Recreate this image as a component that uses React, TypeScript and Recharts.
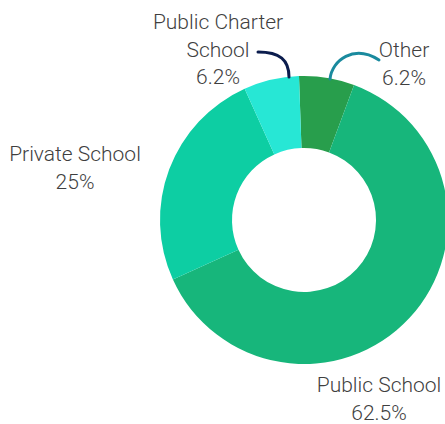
import React from 'react';
import { PieChart, Pie, Cell } from 'recharts';

const categories = ['Other', 'Public School', 'Private School', 'Public Charter School'];
const shares = [6.2, 62.5, 25, 6.2];
const labelLines = [['Other'], ['Public School'], ['Private School'], ['Public Charter', 'School']];

const COLORS = ['#289e4c', '#17b67b', '#0dcea3', '#27e7d5'];

// label placement relative to the pie centre: [dx, first baseline dy]
const LABEL_POS: Record<string, { dx: number; dy: number }> = {
  Other: { dx: 100, dy: -163 },
  'Public School': { dx: 75, dy: 172 },
  'Private School': { dx: -229, dy: -59 },
  'Public Charter School': { dx: -86, dy: -191 },
};

const CONNECTORS: Record<string, { d: number[]; color: string }> = {
  Other: { d: [26, -141, 28, -160, 50, -176, 75, -160], color: '#1a8a9e' },
  'Public Charter School': { d: [-15, -143, -15, -160, -24, -168, -46, -168], color: '#0b1c4d' },
};

const data = categories.map((name, i) => ({ name, value: shares[i], lines: labelLines[i] }));

const renderLabel = (props: any) => {
  const { cx, cy, index } = props;
  const item = data[index];
  const pos = LABEL_POS[item.name];
  const x = cx + pos.dx;
  const conn = CONNECTORS[item.name];
  const rows = [...item.lines, `${item.value}%`];
  let path = null;
  if (conn) {
    const p = conn.d;
    const d = `M${cx + p[0]},${cy + p[1]} C${cx + p[2]},${cy + p[3]} ${cx + p[4]},${cy + p[5]} ${cx + p[6]},${cy + p[7]}`;
    path = <path d={d} fill="none" stroke={conn.color} strokeWidth={3} strokeLinecap="round" />;
  }
  return (
    <g key={`lbl-${index}`}>
      {path}
      <text
        x={x}
        y={cy + pos.dy}
        textAnchor="middle"
        fill="#3f3f3f"
        fontFamily="Roboto, sans-serif"
        fontWeight={300}
        fontSize={21}
      >
        {rows.map((r, i) => (
          <tspan key={i} x={x} dy={i === 0 ? 0 : 27.5}>
            {r}
          </tspan>
        ))}
      </text>
    </g>
  );
};

export default function App() {
  return (
    <div style={{ position: 'absolute', left: 0, top: 0, width: 445, height: 424, background: '#fff' }}>
      <PieChart width={445} height={424} margin={{ top: 0, right: 0, bottom: 0, left: 0 }}>
        <Pie
          data={data}
          dataKey="value"
          nameKey="name"
          cx={304}
          cy={220}
          innerRadius={72}
          outerRadius={144}
          startAngle={92}
          endAngle={-268}
          stroke="none"
          label={renderLabel}
          labelLine={false}
          isAnimationActive={false}
        >
          {data.map((d, i) => (
            <Cell key={d.name} fill={COLORS[i]} />
          ))}
        </Pie>
      </PieChart>
    </div>
  );
}
